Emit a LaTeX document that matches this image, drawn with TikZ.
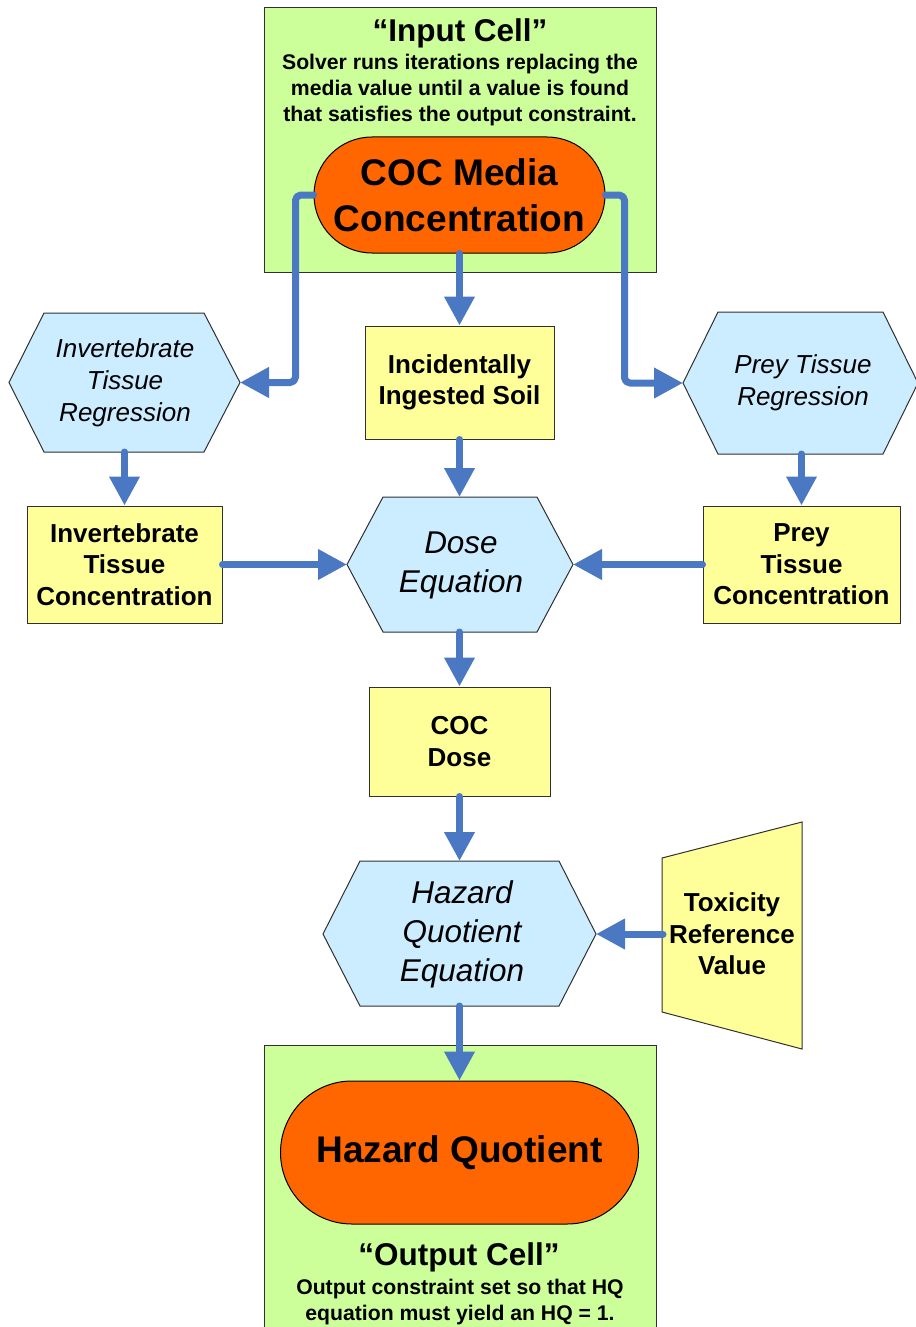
\documentclass[tikz,border=0pt]{standalone}
\usepackage{fontspec}
\setmainfont{Liberation Sans}
\usetikzlibrary{arrows.meta}
\definecolor{cellgreen}{HTML}{CCFF99}
\definecolor{hexblue}{HTML}{CCECFF}
\definecolor{boxyellow}{HTML}{FFFF99}
\definecolor{ovalorange}{HTML}{FF6600}
\definecolor{arrowblue}{HTML}{4A78C2}
\definecolor{edgegray}{HTML}{303030}
\begin{document}
\begin{tikzpicture}[x=0.75pt,y=-0.75pt,
  cell/.style={draw=edgegray, line width=0.75pt, fill=cellgreen, inner sep=0pt},
  hexshape/.style={draw=edgegray, line width=0.75pt, fill=hexblue},
  hextext/.style={font=\fontsize{19.5}{24}\selectfont\itshape, align=center, inner sep=0pt},
  bighextext/.style={font=\fontsize{23.6}{29.25}\selectfont\itshape, align=center, inner sep=0pt},
  ybox/.style={draw=edgegray, line width=0.75pt, fill=boxyellow, font=\fontsize{19.5}{23.6}\selectfont\bfseries, align=center, inner sep=0pt},
  stadium/.style={draw=black, line width=0.75pt, fill=ovalorange, font=\fontsize{27.8}{34.5}\selectfont\bfseries, align=center, inner sep=0pt},
  celltitle/.style={font=\fontsize{23.6}{28}\selectfont\bfseries, inner sep=0pt},
  cellbody/.style={font=\fontsize{15.9}{19.5}\selectfont\bfseries, align=center, inner sep=0pt},
  conn/.style={draw=arrowblue, line width=5.25pt, line cap=round, line join=round, -{Triangle[length=21.75pt,width=21.75pt]}},
]
\useasboundingbox (0,0) rectangle (915,1327);

% cells
\node[cell, minimum width=294pt, minimum height=198pt] (incell) at (460,140) {};
\node[cell, minimum width=294pt, minimum height=221.25pt] (outcell) at (460,1192.5) {};
\node[celltitle, anchor=base] (intitle) at (460,42) {“Input Cell”};
\node[cellbody] (inbody) at (460,90.5) {Solver runs iterations replacing the\\media value until a value is found\\that satisfies the output constraint.};
\node[celltitle, anchor=base] (outtitle) at (459,1265) {“Output Cell”};
\node[cellbody] (outbody) at (460,1302) {Output constraint set so that HQ\\equation must yield an HQ = 1.};

% stadiums
\node[stadium, minimum width=218.25pt, minimum height=87pt, rounded corners=43.5pt] (coc) at (459.5,195) {COC Media\\Concentration};
\node[stadium, minimum width=268.5pt, minimum height=107.25pt, rounded corners=53.6pt] (hq) at (459.5,1152.5) {Hazard Quotient};

% hexagons
\draw[hexshape] (44,313) -- (204,313) -- (240,382.5) -- (204,452) -- (44,452) -- (9,382.5) -- cycle;
\node[hextext] (ihext) at (125,383) {Invertebrate\\Tissue\\Regression};
\coordinate (ihex-e) at (240,382.5);
\coordinate (ihex-s) at (124.5,452);

\draw[hexshape] (683,383) -- (718,312) -- (883,312) -- (918,383) -- (883,454) -- (718,454) -- cycle;
\node[hextext] (phext) at (803,383) {Prey Tissue\\Regression};
\coordinate (phex-w) at (683,383);
\coordinate (phex-s) at (801.5,454);

\draw[hexshape] (347,564.5) -- (383,497) -- (537,497) -- (573,564.5) -- (537,632) -- (383,632) -- cycle;
\node[bighextext] (dhext) at (461,565) {Dose\\Equation};
\coordinate (dhex-n) at (459.5,497);
\coordinate (dhex-s) at (459.5,632);
\coordinate (dhex-w) at (347,564.5);
\coordinate (dhex-e) at (573,564.5);

\draw[hexshape] (323,934) -- (360,861) -- (559,861) -- (596,934) -- (559,1006) -- (360,1006) -- cycle;
\node[bighextext] (hhext) at (462,934) {Hazard\\Quotient\\Equation};
\coordinate (hhex-n) at (459.5,861);
\coordinate (hhex-s) at (459.5,1006);
\coordinate (hhex-e) at (596,934);

% yellow boxes
\node[ybox, minimum width=141.75pt, minimum height=84.75pt] (inc) at (459.5,382.5) {Incidentally\\Ingested Soil};
\node[ybox, minimum width=146.25pt, minimum height=87.75pt] (ic) at (124.5,564.5) {Invertebrate\\Tissue\\Concentration};
\node[ybox, minimum width=147.75pt, minimum height=87.75pt] (pc) at (801.5,564.5) {Prey\\Tissue\\Concentration};
\node[ybox, minimum width=135.75pt, minimum height=81.75pt] (cd) at (459.5,741.5) {COC\\Dose};

% manual input trapezoid
\draw[draw=edgegray, line width=0.75pt, fill=boxyellow] (662,858) -- (802,822) -- (802,1049) -- (662,1012) -- cycle;
\node[font=\fontsize{19.5}{23.6}\selectfont\bfseries, align=center, inner sep=0pt] (tox) at (732,934) {Toxicity\\Reference\\Value};
\coordinate (tox-w) at (663,934);

% connectors
\draw[conn, rounded corners=4pt] (coc.west) -- ++(-18,0) |- (ihex-e);
\draw[conn, rounded corners=4pt] (coc.east) -- ++(19,0) |- (phex-w);
\draw[conn] (coc.south) -- (inc.north);
\draw[conn] (inc.south) -- (dhex-n);
\draw[conn] (ihex-s) -- (ic.north);
\draw[conn] (phex-s) -- (pc.north);
\draw[conn] (ic.east) -- (dhex-w);
\draw[conn] (pc.west) -- (dhex-e);
\draw[conn] (dhex-s) -- (cd.north);
\draw[conn] (cd.south) -- (hhex-n);
\draw[conn] (tox-w) -- (hhex-e);
\draw[conn] (hhex-s) -- (hq.north);
\end{tikzpicture}
\end{document}
